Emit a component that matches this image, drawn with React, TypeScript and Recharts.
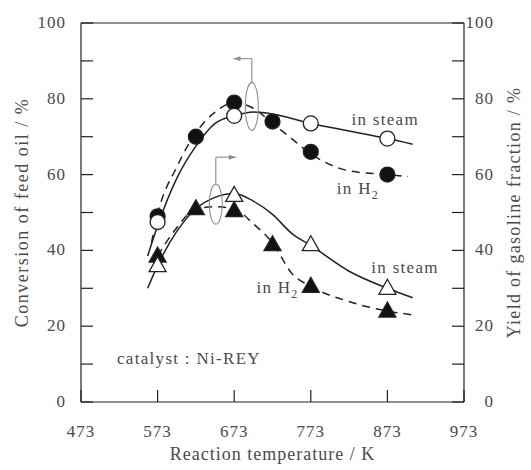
import { ComposedChart, Line, XAxis, YAxis, ReferenceDot, ReferenceLine, Label } from "recharts"

const FONT = "'Liberation Serif', 'DejaVu Serif', serif"
const INK = "#222"
const TEXT = "#4a4a4a"
const NOTE = "#8c8c8c"

// measured points (K, %)
const h2Temps = [573, 623, 673, 723, 773, 873]
const h2Conversion = [49, 70, 79, 74, 66, 60]
const h2Yield = [38.5, 51, 50.5, 41.5, 30.5, 24]

const steamTemps = [573, 673, 773, 873]
const steamConversion = [47.5, 75.5, 73.5, 69.5]
const steamYield = [36, 54.5, 41.5, 30]

// hand drawn trend curves
const steamConvCurveT = [560, 573, 598, 623, 648, 673, 698, 723, 773, 823, 873, 906]
const steamConvCurve = [38.5, 46.5, 59, 67.5, 73.5, 75.5, 76.5, 76, 73.5, 71.5, 69.5, 68]
const h2ConvCurveT = [565, 573, 598, 623, 648, 673, 698, 723, 748, 773, 823, 873, 900]
const h2ConvCurve = [42, 49.5, 62, 71, 76.5, 79, 77.5, 73.5, 69.5, 65.5, 61, 60, 59.5]
const steamYieldCurveT = [560, 573, 598, 623, 648, 673, 698, 723, 748, 773, 823, 873, 906]
const steamYieldCurve = [30, 36, 45, 51, 54, 55, 53, 49.5, 44.5, 41.3, 34.5, 30, 27.5]
const h2YieldCurveT = [573, 598, 623, 648, 673, 698, 723, 748, 773, 823, 873, 906]
const h2YieldCurve = [38.5, 46, 51, 51.5, 51, 47, 42, 34, 30.5, 26.5, 24, 23]

const xTicks = [473, 573, 673, 773, 873, 973]
const yTicks = [0, 10, 20, 30, 40, 50, 60, 70, 80, 90, 100]

const pts = (t: number[], v: number[]) => t.map((x, i) => ({ t: x, v: v[i] }))

const TICK = 12
const tickStyle = { fontFamily: FONT, fontSize: 17, letterSpacing: 1, fill: TEXT }

function BottomTick({ x, y, payload }: any) {
  return (
    <g>
      <line x1={x} y1={y} x2={x} y2={y - TICK} stroke={INK} strokeWidth={1.2} />
      <text x={x} y={y + 34.5} textAnchor="middle" style={tickStyle}>{payload.value}</text>
    </g>
  )
}

function TopTick({ x, y }: any) {
  return <line x1={x} y1={y} x2={x} y2={y + TICK} stroke={INK} strokeWidth={1.2} />
}

function LeftTick({ x, y, payload }: any) {
  return (
    <g>
      <line x1={x} y1={y} x2={x + TICK} y2={y} stroke={INK} strokeWidth={1.2} />
      {payload.value % 20 === 0 && (
        <text x={x - 15} y={y + 5} textAnchor="end" style={tickStyle}>{payload.value}</text>
      )}
    </g>
  )
}

function RightTick({ x, y, payload }: any) {
  return (
    <g>
      <line x1={x} y1={y} x2={x - TICK} y2={y} stroke={INK} strokeWidth={1.2} />
      {payload.value % 20 === 0 && (
        <text x={x + 30} y={y + 5} textAnchor="end" style={tickStyle}>{payload.value}</text>
      )}
    </g>
  )
}

function marker(kind: "circle" | "triangle", filled: boolean) {
  return (p: any) => {
    const { cx, cy, index } = p
    if (cx == null || cy == null) return <g key={index} />
    const fill = filled ? "#111" : "#fff"
    if (kind === "circle")
      return <circle key={index} cx={cx} cy={cy} r={7.5} fill={fill} stroke={INK} strokeWidth={1.3} />
    return (
      <polygon
        key={index}
        points={`${cx},${cy - 9} ${cx - 8.5},${cy + 6} ${cx + 8.5},${cy + 6}`}
        fill={fill}
        stroke={INK}
        strokeWidth={1.3}
      />
    )
  }
}

function note(text: string, sub?: string) {
  return (p: any) => (
    <text x={p.cx} y={p.cy} style={{ fontFamily: FONT, fontSize: 17, letterSpacing: 1.3, fill: TEXT }}>
      {text}
      {sub && (
        <tspan dy={5} style={{ fontSize: 12 }}>
          {sub}
        </tspan>
      )}
    </text>
  )
}

const ellipse = (ry: number) => (p: any) =>
  <ellipse cx={p.cx} cy={p.cy} rx={6.5} ry={ry} fill="none" stroke={NOTE} strokeWidth={1.1} />

const arrowHead = (dir: 1 | -1) => (p: any) =>
  <polygon
    points={`${p.cx},${p.cy} ${p.cx - dir * 7},${p.cy - 2.5} ${p.cx - dir * 7},${p.cy + 2.5}`}
    fill={NOTE}
  />

const titleStyle = (spacing: number) => ({ fontFamily: FONT, fontSize: 18, letterSpacing: spacing, fill: TEXT })

const ax = { xAxisId: "b", yAxisId: "l" }

export default function App() {
  return (
    <div style={{ position: "absolute", left: 0, top: 0, background: "#fff" }}>
      <ComposedChart width={531} height={470} margin={{ top: 13, right: 27, bottom: 28, left: 21 }}>
        <XAxis
          xAxisId="b"
          dataKey="t"
          type="number"
          domain={[473, 973]}
          ticks={xTicks}
          height={40}
          tickSize={0}
          tickMargin={0}
          tickLine={false}
          tick={BottomTick}
          axisLine={{ stroke: INK, strokeWidth: 1.2 }}
          interval={0}
        >
          <Label
            content={({ viewBox }: any) => (
              <text
                x={viewBox.x + viewBox.width / 2}
                y={viewBox.y + 58}
                textAnchor="middle"
                style={titleStyle(1)}
              >
                Reaction temperature / K
              </text>
            )}
          />
        </XAxis>
        <XAxis
          xAxisId="t"
          orientation="top"
          type="number"
          domain={[473, 973]}
          ticks={xTicks}
          height={10}
          tickSize={0}
          tickMargin={0}
          tickLine={false}
          tick={TopTick}
          axisLine={{ stroke: INK, strokeWidth: 1.2 }}
          interval={0}
        />
        <YAxis
          yAxisId="l"
          type="number"
          domain={[0, 100]}
          ticks={yTicks}
          width={60}
          tickSize={0}
          tickMargin={0}
          tickLine={false}
          tick={LeftTick}
          axisLine={{ stroke: INK, strokeWidth: 1.2 }}
          interval={0}
        >
          <Label
            content={({ viewBox }: any) => {
              const x = viewBox.x + 1
              const y = viewBox.y + viewBox.height / 2
              return (
                <text
                  x={x}
                  y={y}
                  transform={`rotate(-90, ${x}, ${y})`}
                  textAnchor="middle"
                  dominantBaseline="central"
                  style={titleStyle(1.5)}
                >
                  Conversion of feed oil / %
                </text>
              )
            }}
          />
        </YAxis>
        <YAxis
          yAxisId="r"
          orientation="right"
          type="number"
          domain={[0, 100]}
          ticks={yTicks}
          width={40}
          tickSize={0}
          tickMargin={0}
          tickLine={false}
          tick={RightTick}
          axisLine={{ stroke: INK, strokeWidth: 1.2 }}
          interval={0}
        >
          <Label
            content={({ viewBox }: any) => {
              const x = viewBox.x + 50
              const y = viewBox.y + viewBox.height / 2
              return (
                <text
                  x={x}
                  y={y}
                  transform={`rotate(-90, ${x}, ${y})`}
                  textAnchor="middle"
                  dominantBaseline="central"
                  style={titleStyle(1.3)}
                >
                  Yield of gasoline fraction / %
                </text>
              )
            }}
          />
        </YAxis>

        {/* trend curves */}
        <Line xAxisId="b" yAxisId="l" data={pts(steamConvCurveT, steamConvCurve)} dataKey="v" type="monotone"
          stroke={INK} strokeWidth={1.5} dot={false} activeDot={false} isAnimationActive={false} />
        <Line xAxisId="b" yAxisId="l" data={pts(h2ConvCurveT, h2ConvCurve)} dataKey="v" type="monotone"
          stroke={INK} strokeWidth={1.5} strokeDasharray="8 6" dot={false} activeDot={false} isAnimationActive={false} />
        <Line xAxisId="b" yAxisId="r" data={pts(steamYieldCurveT, steamYieldCurve)} dataKey="v" type="monotone"
          stroke={INK} strokeWidth={1.5} dot={false} activeDot={false} isAnimationActive={false} />
        <Line xAxisId="b" yAxisId="r" data={pts(h2YieldCurveT, h2YieldCurve)} dataKey="v" type="monotone"
          stroke={INK} strokeWidth={1.5} strokeDasharray="8 6" dot={false} activeDot={false} isAnimationActive={false} />

        {/* measured points */}
        <Line xAxisId="b" yAxisId="l" data={pts(h2Temps, h2Conversion)} dataKey="v" stroke="none"
          dot={marker("circle", true)} activeDot={false} isAnimationActive={false} />
        <Line xAxisId="b" yAxisId="l" data={pts(steamTemps, steamConversion)} dataKey="v" stroke="none"
          dot={marker("circle", false)} activeDot={false} isAnimationActive={false} />
        <Line xAxisId="b" yAxisId="r" data={pts(h2Temps, h2Yield)} dataKey="v" stroke="none"
          dot={marker("triangle", true)} activeDot={false} isAnimationActive={false} />
        <Line xAxisId="b" yAxisId="r" data={pts(steamTemps, steamYield)} dataKey="v" stroke="none"
          dot={marker("triangle", false)} activeDot={false} isAnimationActive={false} />

        {/* axis pointers */}
        <ReferenceDot {...ax} x={696} y={78} shape={ellipse(24)} />
        <ReferenceLine {...ax} segment={[{ x: 696, y: 84.3 }, { x: 696, y: 90.6 }]} stroke={NOTE} strokeWidth={1.1} />
        <ReferenceLine {...ax} segment={[{ x: 696, y: 90.6 }, { x: 672, y: 90.6 }]} stroke={NOTE} strokeWidth={1.1} />
        <ReferenceDot {...ax} x={672} y={90.6} shape={arrowHead(-1)} />

        <ReferenceDot {...ax} x={649} y={52.2} shape={ellipse(20)} />
        <ReferenceLine {...ax} segment={[{ x: 649, y: 57.5 }, { x: 649, y: 64.6 }]} stroke={NOTE} strokeWidth={1.1} />
        <ReferenceLine {...ax} segment={[{ x: 649, y: 64.6 }, { x: 675, y: 64.6 }]} stroke={NOTE} strokeWidth={1.1} />
        <ReferenceDot {...ax} x={675} y={64.6} shape={arrowHead(1)} />

        {/* labels */}
        <ReferenceDot {...ax} x={826} y={73} shape={note("in steam")} />
        <ReferenceDot {...ax} x={807} y={55} shape={note("in H", "2")} />
        <ReferenceDot {...ax} x={852} y={34} shape={note("in steam")} />
        <ReferenceDot {...ax} x={702} y={28.8} shape={note("in H", "2")} />
        <ReferenceDot {...ax} x={520} y={9.9} shape={note("catalyst : Ni-REY")} />
      </ComposedChart>
    </div>
  )
}
